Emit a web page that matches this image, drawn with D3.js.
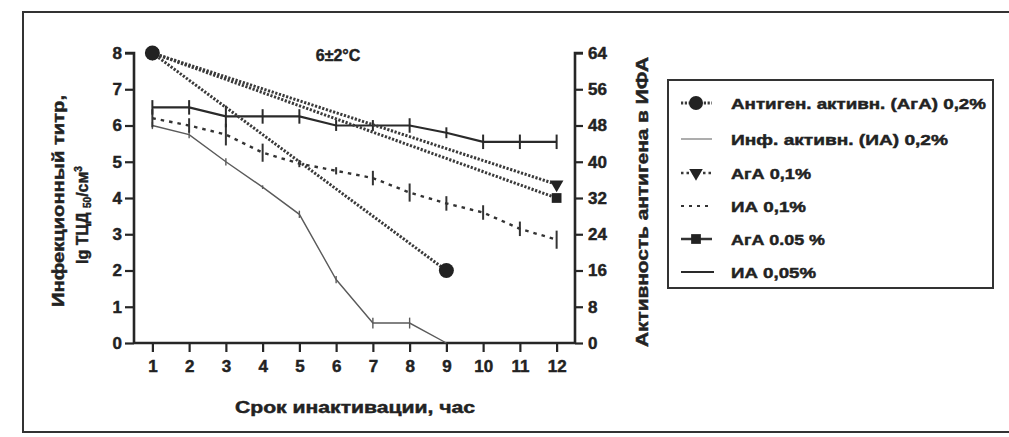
<!DOCTYPE html>
<html><head><meta charset="utf-8">
<script src="https://cdn.jsdelivr.net/npm/d3@7"></script>
<style>
html,body{margin:0;padding:0;background:#fff;}
svg text{font-family:"Liberation Sans",Arial,sans-serif;font-weight:bold;fill:#222;stroke:#222;stroke-width:0.45;}
</style></head>
<body>
<svg id="c" width="1009" height="437"></svg>
<script>
// ---- data ----
const hours = [1,2,3,4,5,6,7,8,9,10,11,12];
const xTicks = [1,2,3,4,5,6,7,8,9,10,11,12];
const leftTicks = [0,1,2,3,4,5,6,7,8];
const rightTicks = [0,8,16,24,32,40,48,56,64];

// infectious titre (lg TCD50/cm3), left axis
const ia02Hours = [1,2,3,4,5,6,7,8,9];
const ia02 = [6.0,5.75,5.0,4.3,3.55,1.75,0.55,0.55,0.0];
const ia02Err = [0.1,0.1,0.1,0.05,0.1,0.1,0.15,0.15,0.0];

const ia01 = [6.2,6.0,5.75,5.25,4.95,4.75,4.55,4.15,3.85,3.6,3.15,2.85];
const ia01Err = [0.25,0.2,0.3,0.25,0.1,0.1,0.2,0.25,0.2,0.2,0.2,0.25];

const ia005 = [6.5,6.5,6.25,6.25,6.25,6.0,6.0,6.0,5.8,5.55,5.55,5.55];
const ia005Err = [0.2,0.2,0.3,0.2,0.2,0.15,0.15,0.2,0.15,0.2,0.2,0.2];

// antigen activity in ELISA, right axis
const aga02Hours = [1,9];
const aga02 = [64,16];
const aga01Hours = [1,12];
const aga01 = [64,35];
const aga005Hours = [1,12];
const aga005 = [64,32];

const title = "6±2°C";
const xTitle = "Срок инактивации, час";
const yTitle1 = "Инфекционный титр,";
const yTitle2 = "Активность антигена в ИФА";
const legendLabels = ["Антиген. активн. (АгА) 0,2%","Инф. активн. (ИА) 0,2%","АгА 0,1%","ИА 0,1%","АгА 0.05 %","ИА 0,05%"];

// ---- drawing ----
const svg = d3.select("#c");
const x = d3.scaleLinear().domain([0.5,12.5]).range([134,575]);
const y = d3.scaleLinear().domain([0,8]).range([343,53]);
const yR = d3.scaleLinear().domain([0,64]).range([343,53]);

// frame
svg.append("path").attr("d","M1015,12 H23 V432 H1015")
  .attr("fill","none").attr("stroke","#333").attr("stroke-width",2);

const ink = "#262626";

// axes
const gL = svg.append("g").attr("transform","translate(134,0)")
  .call(d3.axisLeft(y).tickValues(leftTicks).tickSize(9).tickPadding(3).tickFormat(d3.format("d")));
const gR = svg.append("g").attr("transform","translate(575,0)")
  .call(d3.axisRight(yR).tickValues(rightTicks).tickSize(8).tickPadding(5).tickFormat(d3.format("d")));
const gX = svg.append("g").attr("transform","translate(0,343)")
  .call(d3.axisBottom(x).tickValues(xTicks).tickSize(9).tickPadding(8).tickFormat(d3.format("d")));
[gL,gR,gX].forEach(g=>{
  g.select(".domain").attr("stroke",ink).attr("stroke-width",2.6);
  g.selectAll(".tick line").attr("stroke",ink).attr("stroke-width",2.2);
  g.selectAll(".tick text").attr("font-size",17).attr("font-family","Liberation Sans, Arial, sans-serif").attr("font-weight","bold").attr("fill",ink);
});
gX.select(".domain").attr("d","M134,0H575");
gL.select(".domain").attr("d","M-9,53H0V343");
gR.select(".domain").attr("d","M8,53H0V343");

const line = d3.line();

function errBars(xs, vals, errs, color, w){
  svg.append("g").selectAll("line").data(xs.map((h,i)=>[h,vals[i],errs[i]]).filter(d=>d[2]>0))
    .join("line")
    .attr("x1",d=>x(d[0])).attr("x2",d=>x(d[0]))
    .attr("y1",d=>y(d[1]-d[2])).attr("y2",d=>y(d[1]+d[2]))
    .attr("stroke",color).attr("stroke-width",w);
}

// ИА 0.2% thin grey
svg.append("path").attr("d",line(ia02Hours.map((h,i)=>[x(h),y(ia02[i])])))
  .attr("fill","none").attr("stroke","#5a5a5a").attr("stroke-width",1.4);
errBars(ia02Hours, ia02, ia02Err, "#5a5a5a", 1.4);

// ИА 0.1% dashed
svg.append("path").attr("d",line(hours.map((h,i)=>[x(h),y(ia01[i])])))
  .attr("fill","none").attr("stroke","#333").attr("stroke-width",2.4).attr("stroke-dasharray","3.5,5");
errBars(hours, ia01, ia01Err, "#333", 2);

// ИА 0.05% solid
svg.append("path").attr("d",line(hours.map((h,i)=>[x(h),y(ia005[i])])))
  .attr("fill","none").attr("stroke","#2a2a2a").attr("stroke-width",2.2);
errBars(hours, ia005, ia005Err, "#2a2a2a", 2);

// antigen dotted lines
const dotted = "2.2,1.6";
function agLine(hs, vs){
  svg.append("path").attr("d",line(hs.map((h,i)=>[x(h),yR(vs[i])])))
    .attr("fill","none").attr("stroke","#3a3a3a").attr("stroke-width",3).attr("stroke-dasharray",dotted);
}
agLine(aga01Hours, aga01);
agLine(aga005Hours, aga005);
agLine(aga02Hours, aga02);

// markers
const sq = d3.symbol().type(d3.symbolSquare).size(95);
const tri = d3.symbol().type(d3.symbolTriangle).size(80);
svg.append("g").selectAll("path").data(aga005Hours.map((h,i)=>[h,aga005[i]]))
  .join("path").attr("d",sq).attr("fill","#222")
  .attr("transform",d=>`translate(${x(d[0])},${yR(d[1])})`);
svg.append("g").selectAll("path").data(aga01Hours.map((h,i)=>[h,aga01[i]]))
  .join("path").attr("d",tri).attr("fill","#222")
  .attr("transform",d=>`translate(${x(d[0])},${yR(d[1])}) rotate(180)`);
svg.append("g").selectAll("circle").data(aga02Hours.map((h,i)=>[h,aga02[i]]))
  .join("circle").attr("cx",d=>x(d[0])).attr("cy",d=>yR(d[1])).attr("r",7.5).attr("fill","#222");

// title
svg.append("text").attr("x",338).attr("y",61).attr("text-anchor","middle").attr("font-size",16).text(title);

// x title
svg.append("text").attr("x",355).attr("y",413).attr("text-anchor","middle").attr("font-size",16)
  .attr("textLength",240).attr("lengthAdjust","spacingAndGlyphs").text(xTitle);

// left titles
svg.append("text").attr("transform","translate(64,201) rotate(-90)").attr("text-anchor","middle")
  .attr("font-size",16).attr("textLength",212).attr("lengthAdjust","spacingAndGlyphs").text(yTitle1);
const t2 = svg.append("text").attr("transform","translate(88,215) rotate(-90)").attr("text-anchor","middle")
  .attr("font-size",16);
t2.append("tspan").text("lg ТЦД ");
t2.append("tspan").attr("font-size",10).attr("dy",3).text("50");
t2.append("tspan").attr("dy",-3).text("/см");
t2.append("tspan").attr("font-size",10).attr("dy",-6).text("3");

// right title
svg.append("text").attr("transform","translate(648,202) rotate(-90)").attr("text-anchor","middle")
  .attr("font-size",16).attr("textLength",290).attr("lengthAdjust","spacingAndGlyphs").text(yTitle2);

// legend
svg.append("rect").attr("x",668).attr("y",80).attr("width",325).attr("height",208)
  .attr("fill","none").attr("stroke","#333").attr("stroke-width",2);
const legY = [103,139,173,206,239,272];
const legW = [255,217,80,75,94,85];
legendLabels.forEach((lab,i)=>{
  svg.append("text").attr("x",731).attr("y",legY[i]+5.5).attr("font-size",15)
    .attr("textLength",legW[i]).attr("lengthAdjust","spacingAndGlyphs").text(lab);
});
const lx0 = 681, lx1 = 712, lxm = 696;
svg.append("line").attr("x1",lx0).attr("x2",lx1).attr("y1",legY[0]).attr("y2",legY[0])
  .attr("stroke","#3a3a3a").attr("stroke-width",3).attr("stroke-dasharray",dotted);
svg.append("circle").attr("cx",lxm).attr("cy",legY[0]).attr("r",7).attr("fill","#222");
svg.append("line").attr("x1",lx0).attr("x2",lx1).attr("y1",legY[1]).attr("y2",legY[1])
  .attr("stroke","#8a8a8a").attr("stroke-width",1.4);
svg.append("line").attr("x1",lx0).attr("x2",lx1).attr("y1",legY[2]).attr("y2",legY[2])
  .attr("stroke","#3a3a3a").attr("stroke-width",2.5).attr("stroke-dasharray","2.5,3");
svg.append("path").attr("d",tri).attr("fill","#222").attr("transform",`translate(${lxm},${legY[2]}) rotate(180)`);
svg.append("line").attr("x1",lx0).attr("x2",lx1).attr("y1",legY[3]).attr("y2",legY[3])
  .attr("stroke","#333").attr("stroke-width",2.2).attr("stroke-dasharray","3,5");
svg.append("line").attr("x1",lx0).attr("x2",lx1).attr("y1",legY[4]).attr("y2",legY[4])
  .attr("stroke","#333").attr("stroke-width",2.5);
svg.append("path").attr("d",sq).attr("fill","#222").attr("transform",`translate(${lxm},${legY[4]})`);
svg.append("line").attr("x1",lx0).attr("x2",lx1+2).attr("y1",legY[5]).attr("y2",legY[5])
  .attr("stroke","#2a2a2a").attr("stroke-width",2.2);
</script>
</body></html>
